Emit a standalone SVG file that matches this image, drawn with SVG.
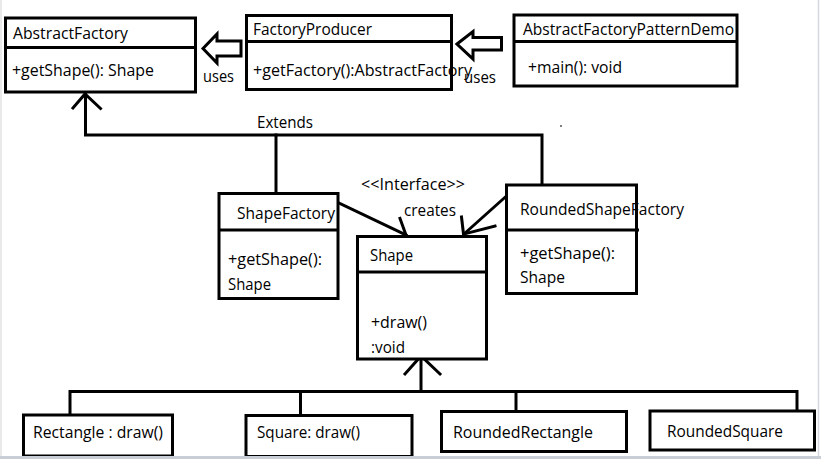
<svg xmlns="http://www.w3.org/2000/svg" width="821" height="459" viewBox="0 0 821 459">
<style>
.box{fill:none;stroke:#000;stroke-width:3}
.bg{fill:#fff}
.div{stroke:#000;stroke-width:3}
.ln{stroke:#000;stroke-width:3;fill:none;stroke-linecap:square}
.hol{fill:#fff;stroke:#000;stroke-width:3;stroke-linejoin:miter}
text{font-family:"Open Sans","Noto Sans","Liberation Sans",sans-serif;font-size:15.5px;fill:#000}
</style>
<rect x="0" y="0" width="821" height="459" fill="#fff"/>
<line x1="1" y1="0" x2="1" y2="456" stroke="#e2e2e2" stroke-width="1.5"/>
<line x1="818.5" y1="0" x2="818.5" y2="456" stroke="#d4d8de" stroke-width="1.5"/>

<g id="connectors">
  <!-- uses arrows (hollow block arrows) -->
  <polygon class="hol" points="203,48.5 217,34 217,41 241,41 241,56 217,56 217,63"/>
  <polygon class="hol" points="457,44 473,31.5 473,37.5 501.5,37.5 501.5,50 473,50 473,59"/>
  <!-- Extends tree -->
  <polyline class="ln" points="85.5,94 85.5,135 542,135 542,185"/>
  <line class="ln" x1="276" y1="135" x2="276" y2="193"/>
  <polyline class="ln" points="73,108 85,94 100.5,108.5" stroke-linecap="butt"/>
  <!-- creates -->
  <line class="ln" x1="338" y1="202.5" x2="406" y2="235"/>
  <line class="ln" x1="400" y1="218.5" x2="406" y2="235" stroke-linecap="butt"/>
  <line class="ln" x1="507" y1="195.5" x2="464" y2="234"/>
  <line class="ln" x1="461.5" y1="217" x2="463.5" y2="234" stroke-linecap="butt"/>
  <line class="ln" x1="495" y1="226" x2="464" y2="234" stroke-linecap="butt"/>
  <!-- inheritance from Shape -->
  <line class="ln" x1="421" y1="357" x2="421" y2="391.5"/>
  <polyline class="ln" points="405,374 421,356 440,374" stroke-linecap="butt"/>
  <polyline class="ln" points="70,414 70,391.5 797,391.5 797,410"/>
  <line class="ln" x1="300.5" y1="391.5" x2="300.5" y2="414"/>
  <line class="ln" x1="516" y1="391.5" x2="516" y2="410"/>
</g>

<text x="203" y="82" textLength="31" lengthAdjust="spacingAndGlyphs">uses</text>
<text x="464" y="83" textLength="32" lengthAdjust="spacingAndGlyphs">uses</text>
<text x="257" y="128" textLength="56" lengthAdjust="spacingAndGlyphs">Extends</text>
<text x="361" y="189.5" textLength="104" lengthAdjust="spacingAndGlyphs">&lt;&lt;Interface&gt;&gt;</text>
<text x="404" y="215.5" textLength="52" lengthAdjust="spacingAndGlyphs">creates</text>
<circle cx="561" cy="126" r="1" fill="#555"/>

<g id="AbstractFactory">
  <rect class="bg" x="5.5" y="18" width="190" height="74"/>
  <text x="13" y="38.5" textLength="115" lengthAdjust="spacingAndGlyphs">AbstractFactory</text>
  <text x="12" y="76" textLength="142" lengthAdjust="spacingAndGlyphs">+getShape(): Shape</text>
  <line class="div" x1="5.5" y1="47.5" x2="195.5" y2="47.5"/>
  <rect class="box" x="5.5" y="18" width="190" height="74"/>
</g>

<g id="FactoryProducer">
  <rect class="bg" x="246.5" y="15.5" width="205" height="74"/>
  <text x="253" y="35" textLength="119" lengthAdjust="spacingAndGlyphs">FactoryProducer</text>
  <text x="253" y="76" textLength="219" lengthAdjust="spacingAndGlyphs">+getFactory():AbstractFactory</text>
  <line class="div" x1="246.5" y1="41.5" x2="451.5" y2="41.5"/>
  <rect class="box" x="246.5" y="15.5" width="205" height="74"/>
</g>

<g id="AbstractFactoryPatternDemo">
  <rect class="bg" x="514" y="15" width="223" height="71"/>
  <text x="523" y="35" textLength="211" lengthAdjust="spacingAndGlyphs">AbstractFactoryPatternDemo</text>
  <text x="528" y="72.5" textLength="94" lengthAdjust="spacingAndGlyphs">+main(): void</text>
  <line class="div" x1="514" y1="41.5" x2="737" y2="41.5"/>
  <rect class="box" x="514" y="15" width="223" height="71"/>
</g>

<g id="ShapeFactory">
  <rect class="bg" x="219" y="193.5" width="119" height="105"/>
  <text x="237" y="219" textLength="98" lengthAdjust="spacingAndGlyphs">ShapeFactory</text>
  <text x="228" y="264.5" textLength="94" lengthAdjust="spacingAndGlyphs">+getShape():</text>
  <text x="228" y="290" textLength="43" lengthAdjust="spacingAndGlyphs">Shape</text>
  <line class="div" x1="219" y1="230" x2="339" y2="230"/>
  <rect class="box" x="219" y="193.5" width="119" height="105"/>
</g>

<g id="Shape">
  <rect class="bg" x="357.5" y="236.5" width="129" height="122.5"/>
  <text x="370" y="261" textLength="43" lengthAdjust="spacingAndGlyphs">Shape</text>
  <text x="371" y="327.5" textLength="56" lengthAdjust="spacingAndGlyphs">+draw()</text>
  <text x="371" y="352.5" textLength="34" lengthAdjust="spacingAndGlyphs">:void</text>
  <line class="div" x1="357.5" y1="272" x2="486.5" y2="272"/>
  <rect class="box" x="357.5" y="236.5" width="129" height="122.5"/>
</g>

<g id="RoundedShapeFactory">
  <rect class="bg" x="506.5" y="185" width="130" height="108.5"/>
  <text x="520" y="214.5" textLength="164" lengthAdjust="spacingAndGlyphs">RoundedShapeFactory</text>
  <text x="520" y="258.5" textLength="95" lengthAdjust="spacingAndGlyphs">+getShape():</text>
  <text x="520" y="283" textLength="45" lengthAdjust="spacingAndGlyphs">Shape</text>
  <line class="div" x1="506.5" y1="230" x2="639" y2="230"/>
  <rect class="box" x="506.5" y="185" width="130" height="108.5"/>
</g>

<g id="Rectangle">
  <rect class="bg" x="23.5" y="415" width="149" height="41"/>
  <text x="33" y="437.5" textLength="130" lengthAdjust="spacingAndGlyphs">Rectangle : draw()</text>
  <rect class="box" x="23.5" y="415" width="149" height="41"/>
</g>

<g id="Square">
  <rect class="bg" x="246" y="415.5" width="166" height="41"/>
  <text x="257" y="437.5" textLength="103" lengthAdjust="spacingAndGlyphs">Square: draw()</text>
  <rect class="box" x="246" y="415.5" width="166" height="41"/>
</g>

<g id="RoundedRectangle">
  <rect class="bg" x="441.5" y="411.5" width="185" height="40"/>
  <text x="453" y="437.5" textLength="140" lengthAdjust="spacingAndGlyphs">RoundedRectangle</text>
  <rect class="box" x="441.5" y="411.5" width="185" height="40"/>
</g>

<g id="RoundedSquare">
  <rect class="bg" x="650" y="411" width="164.5" height="39"/>
  <text x="667" y="437" textLength="116" lengthAdjust="spacingAndGlyphs">RoundedSquare</text>
  <rect class="box" x="650" y="411" width="164.5" height="39"/>
</g>

<rect x="0" y="456" width="821" height="3" fill="#c9ced6"/>
</svg>
